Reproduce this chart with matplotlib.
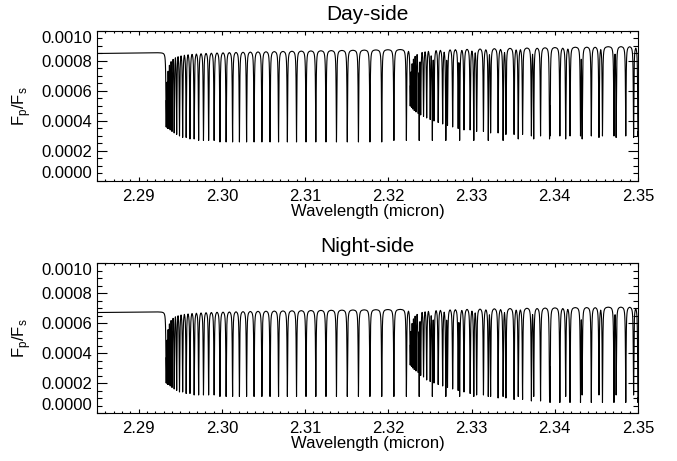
import numpy as np
import matplotlib.pyplot as plt
from matplotlib.ticker import MultipleLocator

plt.rcParams['font.family'] = ['Liberation Sans', 'DejaVu Sans']
plt.rcParams['mathtext.fontset'] = 'custom'
plt.rcParams['mathtext.rm'] = 'Liberation Sans'

# CO 2-0 line centres (micron)
co20_lines = [2.29331, 2.29337, 2.29347, 2.29361, 2.29379, 2.29401, 2.29427, 2.29457,
              2.29491, 2.29529, 2.29571, 2.29617, 2.29667, 2.29721, 2.29779, 2.29841,
              2.29907, 2.29977, 2.30051, 2.30129, 2.30211, 2.30297, 2.30387, 2.30481,
              2.30579, 2.30681, 2.30787, 2.30897, 2.31011, 2.31129, 2.31251, 2.31377,
              2.31507, 2.31641, 2.31779, 2.31921, 2.32067, 2.32217, 2.32371, 2.32529,
              2.32691, 2.32857, 2.33027, 2.33201, 2.33379, 2.33561, 2.33747, 2.33937,
              2.34131, 2.34329, 2.34531, 2.34737, 2.34947]
# CO 3-1 line centres (micron)
co31_lines = [2.32263, 2.32269, 2.32279, 2.32293, 2.32311, 2.32333, 2.32359, 2.32389,
              2.32423, 2.32461, 2.32503, 2.32549, 2.32599, 2.32653, 2.32711, 2.32773,
              2.32839, 2.32909, 2.32983, 2.33061, 2.33143, 2.33229, 2.33319, 2.33413,
              2.33511, 2.33613, 2.33719, 2.33829, 2.33943, 2.34061, 2.34183, 2.34309,
              2.34439, 2.34573, 2.34711, 2.34853, 2.34999]

# continuum level at 2.285 and 2.35 micron
cont_day = [0.00085, 0.00090]
cont_night = [0.00067, 0.00071]

# flux at line cores
day_20_min = [0.00036, 0.00036, 0.00035, 0.00035, 0.00034, 0.00033, 0.00032, 0.00031,
              0.00030, 0.00029, 0.00029, 0.00028, 0.00028, 0.00027, 0.00027, 0.00027,
              0.00027, 0.00026, 0.00026, 0.00026, 0.00026, 0.00026, 0.00026, 0.00026,
              0.00026, 0.00026, 0.00026, 0.00026, 0.00026, 0.00026, 0.00026, 0.00026,
              0.00026, 0.00026, 0.00026, 0.00026, 0.00027, 0.00027, 0.00027, 0.00027,
              0.00027, 0.00027, 0.00027, 0.00027, 0.00027, 0.00028, 0.00028, 0.00028,
              0.00028, 0.00028, 0.00029, 0.00029, 0.00029]
day_31_min = [0.00050, 0.00050, 0.00049, 0.00048, 0.00047, 0.00046, 0.00045, 0.00044,
              0.00043, 0.00042, 0.00041, 0.00040, 0.00039, 0.00038, 0.00037, 0.00036,
              0.00035, 0.00034, 0.00034, 0.00033, 0.00033, 0.00032, 0.00032, 0.00031,
              0.00031, 0.00031, 0.00030, 0.00030, 0.00030, 0.00030, 0.00030, 0.00030,
              0.00030, 0.00030, 0.00030, 0.00030, 0.00030]
night_20_min = [0.00020, 0.00020, 0.00019, 0.00019, 0.00018, 0.00017, 0.00016, 0.00015,
                0.00014, 0.00014, 0.00013, 0.00013, 0.00012, 0.00012, 0.00012, 0.00012,
                0.00012, 0.00011, 0.00011, 0.00011, 0.00011, 0.00011, 0.00011, 0.00011,
                0.00011, 0.00011, 0.00011, 0.00011, 0.00011, 0.00011, 0.00011, 0.00011,
                0.00011, 0.00011, 0.00011, 0.00011, 0.00011, 0.00011, 0.00011, 0.00011,
                0.00011, 0.00011, 0.00011, 0.00011, 0.00011, 0.00011, 0.00011, 0.00011,
                0.00011, 0.00012, 0.00012, 0.00012, 0.00012]
night_31_min = [0.00032, 0.00032, 0.00031, 0.00030, 0.00029, 0.00028, 0.00027, 0.00025,
                0.00024, 0.00022, 0.00021, 0.00020, 0.00019, 0.00018, 0.00017, 0.00016,
                0.00015, 0.00014, 0.00013, 0.00012, 0.00012, 0.00011, 0.00010, 0.00010,
                0.00009, 0.00009, 0.00008, 0.00008, 0.00007, 0.00007, 0.00007, 0.00007,
                0.00007, 0.00007, 0.00007, 0.00007, 0.00007]

xlim = [2.285, 2.35]
gamma = 0.00004   # line half-width (micron)
wave = np.arange(xlim[0], xlim[1], 1e-6)


def spectrum(cont_ends, lines_min):
    cont = np.interp(wave, xlim, cont_ends)
    absorb = np.zeros_like(wave)
    for centres, mins in lines_min:
        for c, m in zip(centres, mins):
            depth = np.interp(c, xlim, cont_ends) - m
            absorb = np.maximum(absorb, depth / (1 + ((wave - c) / gamma) ** 2))
    return cont - absorb


flux_day = spectrum(cont_day, [(co20_lines, day_20_min), (co31_lines, day_31_min)])
flux_night = spectrum(cont_night, [(co20_lines, night_20_min), (co31_lines, night_31_min)])

fig = plt.figure(figsize=(6.77, 4.61), dpi=100)
ax1 = fig.add_axes([0.1433, 0.6074, 0.7991, 0.3254])
ax2 = fig.add_axes([0.1433, 0.1041, 0.7991, 0.3254])

for ax, flux, title in [(ax1, flux_day, 'Day-side'), (ax2, flux_night, 'Night-side')]:
    ax.plot(wave, flux, color='black', linewidth=0.8)
    ax.set_xlim(xlim)
    ax.set_ylim(0, 0.001)
    ax.set_yticks([0, 0.0002, 0.0004, 0.0006, 0.0008, 0.0010])
    ax.set_yticklabels(['0.0000', '0.0002', '0.0004', '0.0006', '0.0008', '0.0010'])
    ax.set_xticks([2.29, 2.30, 2.31, 2.32, 2.33, 2.34, 2.35])
    ax.set_xticklabels(['2.29', '2.30', '2.31', '2.32', '2.33', '2.34', '2.35'])
    ax.xaxis.set_minor_locator(MultipleLocator(0.001))
    ax.yaxis.set_minor_locator(MultipleLocator(0.00005))
    ax.tick_params(axis='both', which='both', direction='in', top=True, right=True,
                   labelsize=12, width=0.8)
    ax.tick_params(axis='x', which='major', length=3, pad=6)
    ax.tick_params(axis='x', which='minor', length=1.5)
    ax.tick_params(axis='y', which='major', length=7.5, pad=3.5)
    ax.tick_params(axis='y', which='minor', length=3.7)
    labels = ax.get_yticklabels()
    labels[0].set_va('bottom')
    labels[-1].set_va('top')
    for sp in ax.spines.values():
        sp.set_linewidth(0.8)
    ax.set_title(title, fontsize=15, pad=8)
    ax.set_xlabel('Wavelength (micron)', fontsize=12, labelpad=0)
    ax.set_ylabel(r'F$_\mathregular{p}$/F$_\mathregular{s}$', fontsize=12, labelpad=6)

plt.savefig('out.png', dpi=100)
